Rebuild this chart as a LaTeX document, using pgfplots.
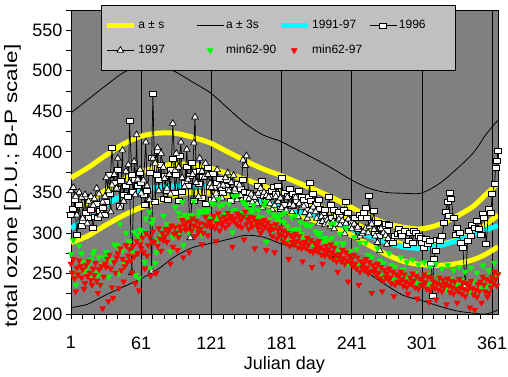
\documentclass[border=0pt]{standalone}
\usepackage{fontspec}
\setmainfont{Liberation Sans}
\usepackage{pgfplots}
\usepackage{pgfplotstable}
\pgfplotsset{compat=1.18}
\definecolor{plotbg}{HTML}{808080}
\definecolor{legbg}{HTML}{C0C0C0}
\definecolor{yel}{HTML}{FFFF00}
\definecolor{cya}{HTML}{00FFFF}
\definecolor{grn}{HTML}{00FF00}
\definecolor{rd}{HTML}{FF0000}

\pgfplotstableread{
d ap3s ap1s a am1s am3s cy
1 448 368 328 288 208 306
15 464 380 338 296 212 318
30 481 395 352 309 223 334
45 497 409 365 321 233 346
60 507 419 375 331 243 353
75 507 423 381 339 255 356
90 499 423 385 347 271 358
105 486 418 384 350 282 358
120 473 411 380 349 287 356
135 454 400 373 346 292 351
150 435 389 366 343 297 345
165 421 379 358 337 295 338
180 413 371 350 329 287 332
195 402 362 342 322 282 326
210 391 353 334 315 277 320
225 379 343 325 307 271 313
240 366 332 315 298 264 305
255 355.5 320.5 303 285.5 250.5 297
270 350 312 293 274 236 289
285 349 307 286 265 223 283
300 349 305 283 261 217 281
315 360 310 285 260 210 284
330 378 320 291 262 204 290
345 399 333 300 267 201 298
356 422 348 311 274 200 304
366 439 361 322 283 205 309
}\curves

\pgfplotstableread{
d s96 s97 g r
1 322 352 274 262
2 nan nan 251 251
3 330 356 291 268
4 341 nan 244 244
5 nan 345 236 228
6 298 322 257 257
7 nan nan 249 249
8 335 350 284 266
9 nan nan 259 259
10 309 344 275 245
11 315 318 265 255
12 nan nan 253 231
13 344 347 253 238
14 325 nan 260 260
15 nan 312 259 247
16 318 339 265 265
17 nan nan 251 251
18 329 345 267 242
19 nan nan 244 236
20 306 334 274 256
21 320 342 278 248
22 nan nan 263 263
23 336 355 251 241
24 318 nan 248 226
25 nan 348 270 255
26 327 322 236 236
27 nan nan 259 259
28 331 338 262 207
29 nan nan 246 246
30 322 345 270 262
31 338 368 276 258
32 nan nan 268 268
33 372 352 246 216
34 348 nan 273 273
35 nan 326 266 256
36 405 359 233 233
37 nan nan 220 220
38 362 372 286 264
39 nan nan 251 251
40 355 355 285 270
41 378 392 283 275
42 nan nan 250 232
43 333 331 311 281
44 364 nan 254 254
45 nan 402 278 268
46 347 339 262 240
47 nan nan 259 259
48 358 376 300 285
49 nan nan 264 264
50 344 384 290 272
51 438 362 288 280
52 nan nan 266 266
53 372 251 276 251
54 351 nan 284 284
55 nan 388 301 271
56 366 347 248 238
57 nan 421 290 290
58 358 366 297 275
59 nan nan 244 229
60 374 378 304 286
61 362 349 293 281
62 nan nan 294 294
63 347 365 301 276
64 335 nan 264 256
65 nan 412 318 300
66 352 358 272 272
67 nan nan 285 285
68 374 341 326 296
69 nan nan 257 247
70 393 253 312 290
71 471 392 317 302
72 nan nan 289 289
73 338 386 263 251
74 372 nan 276 251
75 401 405 292 284
76 366 352 306 306
77 nan nan 293 293
78 384 398 296 278
79 nan nan 300 300
80 342 381 321 291
81 370 367 306 296
82 nan nan 305 305
83 352 355 311 289
84 341 nan 301 301
85 nan 372 305 305
86 378 348 277 262
87 nan nan 309 309
88 392 435 295 283
89 nan nan 299 299
90 350 377 332 307
91 372 398 308 300
92 nan nan 297 279
93 340 381 325 295
94 395 nan 318 308
95 nan 412 303 303
96 351 368 338 316
97 nan nan 285 270
98 362 357 322 310
99 nan nan 304 304
100 381 403 313 313
101 358 366 318 306
102 nan nan 301 276
103 371 294 322 314
104 386 nan 321 303
105 nan 372 318 318
106 339 411 339 309
107 nan 443 306 296
108 375 362 315 315
109 nan nan 307 307
110 360 345 323 301
111 377 392 327 312
112 nan nan 305 305
113 343 376 298 286
114 369 nan 325 300
115 nan 369 311 311
116 336 386 328 320
117 nan nan 327 309
118 380 372 327 297
119 nan nan 314 314
120 357 361 318 308
121 341 356 337 315
122 373 nan 309 309
123 356 341 336 321
124 345 nan 314 306
125 nan 349 315 290
126 362 378 320 312
127 nan nan 342 324
128 367 358 333 303
129 nan nan 318 318
130 355 343 320 310
131 349 359 335 313
132 nan nan 320 320
133 358 368 322 307
134 366 nan 324 316
135 nan 374 325 325
136 353 352 336 311
137 nan nan 326 318
138 339 362 321 321
139 nan nan 301 283
140 347 371 345 315
141 352 354 328 318
142 nan nan 312 312
143 346 341 346 324
144 361 nan 324 309
145 nan 359 322 322
146 355 346 324 316
147 nan nan 325 307
148 365 390 338 320
149 nan nan 322 292
150 351 383 336 326
151 343 395 333 311
152 nan nan 317 317
153 336 342 320 305
154 349 nan 328 320
155 nan 348 313 313
156 345 338 326 308
157 nan nan 334 319
158 338 344 311 281
159 nan nan 315 315
160 347 336 320 310
161 358 349 328 306
162 nan nan 314 314
163 350 355 315 300
164 364 nan 319 311
165 nan 331 304 304
166 346 350 334 316
167 nan nan 338 308
168 340 346 289 279
169 nan nan 313 313
170 349 344 327 305
171 344 336 317 302
172 nan nan 309 309
173 352 329 304 296
174 357 nan 323 305
175 nan 334 306 276
176 348 345 321 311
177 nan nan 315 293
178 358 339 319 304
179 nan nan 298 298
180 330 343 315 307
181 368 331 323 298
182 nan nan 290 290
183 335 325 313 303
184 350 nan 325 295
185 nan 328 287 287
186 346 344 308 300
187 nan nan 290 268
188 355 335 302 284
189 nan nan 297 297
190 334 326 319 289
191 348 334 304 294
192 nan nan 286 286
193 344 344 321 299
194 339 nan 305 290
195 nan 320 282 282
196 352 336 304 296
197 nan nan 313 288
198 345 331 299 281
199 nan nan 295 265
200 341 333 295 285
201 335 325 311 289
202 nan nan 281 281
203 328 318 309 294
204 344 nan 294 286
205 362 322 278 278
206 339 328 309 291
207 nan nan 288 258
208 348 332 286 276
209 nan nan 288 288
210 336 326 302 280
211 336 318 300 285
212 nan nan 277 277
213 341 312 298 290
214 330 nan 300 282
215 nan 320 273 273
216 322 314 292 262
217 nan nan 289 279
218 328 310 294 272
219 nan nan 284 284
220 319 316 291 276
221 345 312 288 280
222 nan nan 271 271
223 335 308 311 286
224 318 nan 294 276
225 nan 314 268 268
226 329 305 312 282
227 nan nan 283 273
228 321 311 287 265
229 nan nan 267 252
230 326 317 278 270
231 320 310 299 274
232 nan nan 265 265
233 314 315 287 279
234 328 nan 287 269
235 nan 299 262 262
236 338 312 306 276
237 nan nan 276 266
238 325 317 262 240
239 nan nan 272 272
240 316 308 278 263
241 312 305 268 268
242 nan nan 259 259
243 308 311 295 273
244 319 nan 262 262
245 nan 294 280 256
246 305 307 270 270
247 nan nan 260 236
248 322 296 288 252
249 nan nan 265 265
250 318 299 258 258
251 325 302 262 262
252 nan nan 254 254
253 331 306 288 268
254 318 nan 257 257
255 nan 300 273 250
256 346 308 264 264
257 nan nan 253 253
258 312 311 270 226
259 nan nan 260 260
260 327 304 252 252
261 300 296 256 256
262 nan nan 248 248
263 312 288 281 262
264 296 nan 251 251
265 nan 278 266 244
266 305 305 258 258
267 nan nan 247 228
268 307 300 263 241
269 nan nan 254 254
270 311 297 246 246
271 302 286 250 250
272 nan 293 243 243
273 310 nan 275 256
274 290 nan 245 245
275 nan nan 260 238
276 288 nan 252 252
277 nan nan 242 222
278 297 nan 258 236
279 nan nan 249 249
280 299 nan 240 240
281 305 nan 247 247
282 nan nan 239 239
283 300 nan 270 252
284 296 nan 243 243
285 nan nan 255 235
286 302 nan 249 249
287 nan nan 240 240
288 285 nan 264 233
289 nan nan 246 225
290 290 nan 238 238
291 300 nan 245 245
292 nan nan 237 237
293 288 nan 267 250
294 302 nan 241 241
295 nan nan 251 233
296 300 nan 247 247
297 nan nan 238 219
298 296 nan 261 231
299 nan nan 244 244
300 294 nan 236 236
301 288 nan 243 243
302 nan nan 235 235
303 282 nan 264 249
304 293 nan 239 239
305 nan nan 249 231
306 287 nan 246 246
307 nan nan 237 215
308 290 nan 258 229
309 262 nan 244 244
310 223 nan 234 234
311 268 nan 240 240
312 nan nan 232 232
313 278 nan 262 218
314 292 nan 238 238
315 nan nan 246 230
316 290 nan 245 245
317 nan nan 236 236
318 296 nan 256 228
319 nan nan 242 242
320 312 nan 233 233
321 326 nan 238 238
322 nan nan 230 212
323 338 nan 260 244
324 321 nan 235 235
325 350 nan 244 227
326 342 nan 241 241
327 nan nan 233 233
328 319 nan 254 225
329 nan nan 240 240
330 298 nan 231 231
331 306 nan 236 214
332 nan nan 228 228
333 300 nan 258 243
334 288 nan 233 233
335 nan nan 242 225
336 282 nan 239 239
337 nan nan 231 231
338 233 nan 252 222
339 nan nan 238 238
340 290 nan 229 229
341 302 nan 235 235
342 nan nan 227 208
343 296 nan 257 241
344 310 nan 232 232
345 nan nan 241 224
346 306 nan 205 205
347 nan nan 230 230
348 315 nan 251 221
349 nan nan 237 237
350 305 nan 228 228
351 298 nan 240 240
352 nan nan 232 214
353 323 nan 260 246
354 318 nan 236 236
355 nan nan 244 228
356 287 nan 243 243
357 nan nan 234 221
358 330 nan 254 226
359 nan nan 241 241
360 325 nan 233 233
361 348 nan 246 246
362 nan nan 238 238
363 360 nan 263 252
364 380 nan 243 243
365 389 nan 248 235
366 401 nan 249 249
}\daily

\begin{document}
\begin{tikzpicture}
\path[use as bounding box] (-71pt,-62pt) rectangle (437pt,314pt);
\begin{axis}[
  at={(0pt,0pt)}, anchor=south west,
  scale only axis, width=427pt, height=304pt,
  xmin=1, xmax=366, ymin=200, ymax=575,
  axis background/.style={fill=plotbg},
  axis line style={black, line width=0.8pt},
  xtick={1,61,121,181,241,301,361},
  minor xtick={11,21,...,351},
  ytick={200,250,...,550},
  minor ytick={225,275,...,575},
  tick pos=left, tick align=outside,
  major tick length=5pt, minor tick length=5pt,
  tick style={black, line width=0.8pt},
  xmajorgrids, major grid style={black, line width=0.8pt},
  /pgf/number format/assume math mode=true,
  tick label style={font=\fontsize{18}{20}\selectfont},
  xticklabel style={yshift=-14pt},
  xlabel={Julian day}, ylabel={total ozone [D.U.; B-P scale]},
  label style={font=\fontsize{18}{20}\selectfont},
  xlabel style={at={(axis description cs:0.5,-0.168)}, anchor=center},
  ylabel style={at={(axis description cs:-0.137,0.421)}, anchor=center, xscale=1.25},
  unbounded coords=discard,
  legend columns=4,
  legend cell align=left,
  legend style={at={(axis description cs:0.0714,1.0164)}, anchor=north west,
    fill=legbg, draw=black, line width=0.8pt,
    font=\fontsize{12}{14}\selectfont,
    inner xsep=2.5pt, inner ysep=13pt, row sep=11pt, column sep=0pt,
    nodes={inner sep=2pt}},
  legend image code/.code={\draw[mark repeat=2,mark phase=2,#1] plot coordinates {(0pt,0pt)(13.5pt,0pt)(27pt,0pt)};},
]
\addplot[yel, line width=5pt, smooth] table[x=d,y=ap1s]{\curves};
\addlegendentry{\makebox[56pt][l]{a ± s}}
\addplot[yel, line width=5pt, smooth, forget plot] table[x=d,y=a]{\curves};
\addplot[yel, line width=5pt, smooth, forget plot] table[x=d,y=am1s]{\curves};
\addplot[black, line width=0.8pt, smooth] table[x=d,y=ap3s]{\curves};
\addlegendentry{\makebox[50pt][l]{a ± 3s}}
\addplot[black, line width=0.8pt, smooth, forget plot] table[x=d,y=am3s]{\curves};
\addplot[cya, line width=5pt, smooth] table[x=d,y=cy]{\curves};
\addlegendentry{\makebox[55pt][l]{1991-97}}
\addplot[black, line width=0.7pt, mark=square*, mark size=2.5pt,
  mark options={fill=white, draw=black, line width=0.7pt, xscale=1.4}] table[x=d,y=s96]{\daily};
\addlegendentry{\makebox[52pt][l]{1996}}
\addplot[black, line width=0.7pt, mark=triangle*, mark size=3.8pt,
  mark options={fill=white, draw=black, line width=0.7pt}] table[x=d,y=s97]{\daily};
\addlegendentry{1997}
\addplot[only marks, mark=triangle*, mark size=3.5pt,
  mark options={rotate=180, fill=grn, draw=grn, line width=0.3pt}] table[x=d,y=g]{\daily};
\addlegendentry{min62-90}
\addplot[only marks, mark=triangle*, mark size=3.5pt,
  mark options={rotate=180, fill=rd, draw=rd, line width=0.3pt}] table[x=d,y=r]{\daily};
\addlegendentry{min62-97}
\end{axis}
\end{tikzpicture}
\end{document}
